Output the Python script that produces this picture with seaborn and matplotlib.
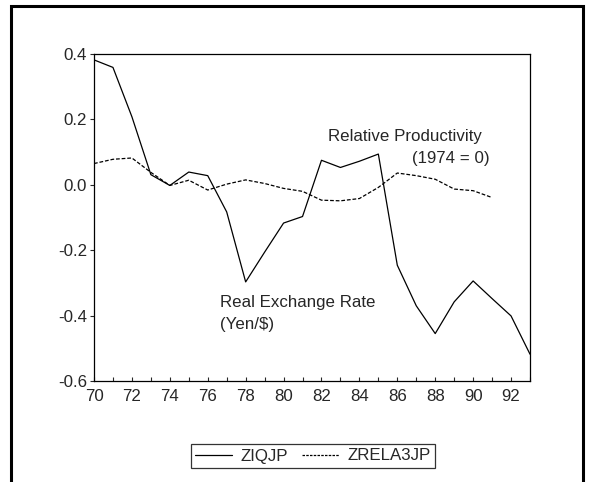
import pandas as pd
import matplotlib
matplotlib.use("Agg")
import matplotlib.pyplot as plt
import seaborn as sns
from matplotlib.lines import Line2D
from matplotlib.patches import Rectangle
from matplotlib.ticker import MultipleLocator

# data
years_ziq = list(range(70, 94))
ziqjp = [0.382, 0.359, 0.208, 0.031, -0.002, 0.039, 0.028, -0.083, -0.297, -0.206,
         -0.117, -0.097, 0.075, 0.053, 0.072, 0.094, -0.246, -0.370, -0.455, -0.358,
         -0.294, -0.348, -0.401, -0.518]
years_rela = list(range(70, 92))
zrela3jp = [0.065, 0.078, 0.082, 0.038, -0.002, 0.014, -0.016, 0.002, 0.015, 0.004,
            -0.011, -0.020, -0.047, -0.049, -0.042, -0.008, 0.036, 0.028, 0.017, -0.013,
            -0.018, -0.039]

df = pd.concat([
    pd.DataFrame({"year": years_ziq, "value": ziqjp, "series": "ZIQJP"}),
    pd.DataFrame({"year": years_rela, "value": zrela3jp, "series": "ZRELA3JP"}),
])

FS = 12.2

sns.set_style("white")
plt.rcParams["font.family"] = ["Liberation Sans", "DejaVu Sans"]
plt.rcParams["font.size"] = FS

fig = plt.figure(figsize=(5.89, 4.82), dpi=100)
ax = fig.add_axes([94 / 589, 1 - 381 / 482, 436 / 589, 327 / 482])

sns.lineplot(data=df, x="year", y="value", hue="series", style="series",
             palette={"ZIQJP": "black", "ZRELA3JP": "black"},
             dashes={"ZIQJP": "", "ZRELA3JP": (3, 1.5)},
             linewidth=0.9, legend=False, ax=ax)

ax.set_xlim(70, 93)
ax.set_ylim(-0.6, 0.4)
ax.set_xlabel("")
ax.set_ylabel("")
ax.xaxis.set_minor_locator(MultipleLocator(1))
ax.set_yticks([-0.6, -0.4, -0.2, 0.0, 0.2, 0.4])
ax.set_yticklabels(["-0.6", "-0.4", "-0.2", "0.0", "0.2", "0.4"])
ax.set_xticks(range(70, 93, 2))
ax.set_xticklabels([str(y) for y in range(70, 93, 2)])
ax.tick_params(axis="x", which="both", direction="in", length=3, width=0.8,
               bottom=True, pad=6, labelsize=FS)
ax.tick_params(axis="y", direction="out", length=3, width=0.8, left=True,
               pad=2, labelsize=FS)
for s in ax.spines.values():
    s.set_color("black")
    s.set_linewidth(0.9)

# annotations placed in reference pixel coordinates (top-left origin)
notes = [
    (328, 136, "Relative Productivity", "left"),
    (490, 158, "(1974 = 0)", "right"),
    (220, 302, "Real Exchange Rate", "left"),
    (220, 325, "(Yen/$)", "left"),
]
for px, py, txt, ha in notes:
    fig.text(px / 589, 1 - py / 482, txt, ha=ha, va="center", fontsize=FS)

handles = [Line2D([], [], color="black", lw=0.9),
           Line2D([], [], color="black", lw=0.9, dashes=(2, 1))]
leg = fig.legend(handles, ["ZIQJP", "ZRELA3JP"], loc="center",
                 bbox_to_anchor=(313 / 589, 1 - 456 / 482), ncol=2, frameon=True,
                 fancybox=False, handlelength=2.2, handletextpad=0.5,
                 columnspacing=0.8, borderpad=0.25, fontsize=FS)
leg.get_frame().set_edgecolor("black")
leg.get_frame().set_linewidth(0.9)

fig.patches.append(Rectangle((11 / 589, -0.02), 572 / 589, 1 - 6 / 482 + 0.02,
                             transform=fig.transFigure, fill=False,
                             edgecolor="black", linewidth=2.2))

fig.savefig("out.png", dpi=100)
